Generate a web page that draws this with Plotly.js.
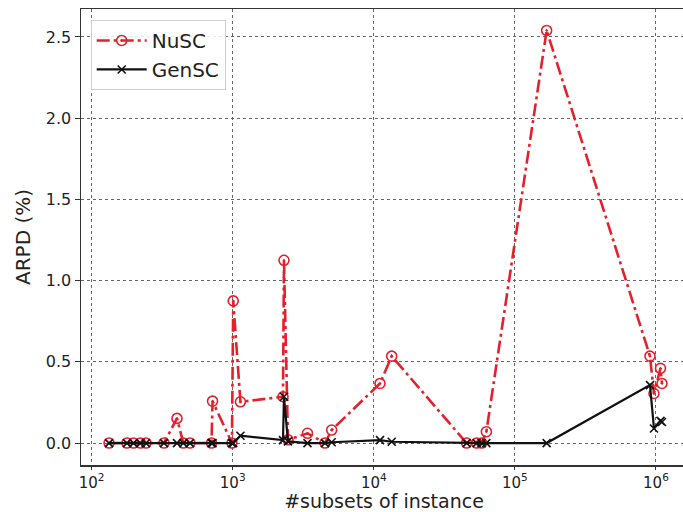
<!DOCTYPE html>
<html>
<head>
<meta charset="utf-8">
<script src="https://cdn.plot.ly/plotly-3.0.1.min.js"></script>
<style>
html,body{margin:0;padding:0;overflow:hidden;background:#fff;}
#chart{width:690px;height:512px;}
</style>
</head>
<body>
<div id="chart"></div>
<script>
// #subsets of instance (shared x values)
const subsets = [133, 178, 198, 222, 243, 326, 403, 447, 498, 708, 720, 988, 1009, 1135,
  2273, 2310, 2466, 3390, 4510, 5030, 11070, 13400, 45500, 53600, 58200, 62800,
  168000, 907000, 968000, 1077000, 1103000];
// ARPD (%) for NuSC
const nusc = [0, 0, 0, 0, 0, 0, 0.152, 0, 0, 0, 0.258, 0, 0.875, 0.254,
  0.285, 1.125, 0.02, 0.06, 0, 0.08, 0.367, 0.535, 0, 0, 0, 0.07,
  2.54, 0.535, 0.305, 0.46, 0.367];
// ARPD (%) for GenSC
const gensc = [0, 0, 0, 0, 0, 0, 0, 0, 0, 0, 0, 0, 0, 0.045,
  0.018, 0.285, 0.01, 0, 0, 0.005, 0.018, 0.008, 0, 0, 0, 0,
  0, 0.357, 0.09, 0.137, 0.13];

const xTickVals = [1e2, 1e3, 1e4, 1e5, 1e6];
const xTickText = ['10<sup>2</sup>', '10<sup>3</sup>', '10<sup>4</sup>', '10<sup>5</sup>', '10<sup>6</sup>'];
const yTickVals = [0, 0.5, 1.0, 1.5, 2.0, 2.5];
const yTickText = ['0.0', '0.5', '1.0', '1.5', '2.0', '2.5'];

const red = '#e3202c';

const traces = [
  {
    x: subsets, y: nusc, name: 'NuSC', type: 'scatter', mode: 'lines+markers',
    line: {color: red, width: 2.6, dash: '13px,4px,3px,4px'},
    marker: {symbol: 'circle-open-dot', size: 10, color: red, line: {color: red, width: 1.6}}
  },
  {
    x: subsets, y: gensc, name: 'GenSC', type: 'scatter', mode: 'lines+markers',
    line: {color: '#111', width: 2.2},
    marker: {symbol: 'x-thin-open', size: 8, color: '#111', line: {color: '#111', width: 1.6}}
  }
];

const layout = {
  width: 690, height: 512,
  margin: {l: 81, r: 3, t: 9, b: 47},
  paper_bgcolor: '#fff', plot_bgcolor: '#fff',
  font: {family: 'DejaVu Sans, sans-serif', size: 16, color: '#222'},
  showlegend: true,
  legend: {
    x: 0.016, y: 0.976, xanchor: 'left', yanchor: 'top',
    bgcolor: 'rgba(255,255,255,0.85)', bordercolor: '#d0d0d0', borderwidth: 1,
    font: {size: 20, color: '#222'}, tracegroupgap: 4, itemwidth: 50
  },
  xaxis: {
    type: 'log', range: [1.925, 6.22],
    tickvals: xTickVals, ticktext: xTickText,
    ticks: 'outside', ticklen: 3, tickcolor: '#333', tickwidth: 1,
    showgrid: true, gridcolor: '#666', griddash: 'dot', gridwidth: 1,
    showline: true, linecolor: '#333', linewidth: 1.5, mirror: true,
    zeroline: false,
    tickfont: {size: 15},
    title: {text: '#subsets of instance', font: {size: 19}, standoff: 8}
  },
  yaxis: {
    range: [-0.135, 2.672],
    tickvals: yTickVals, ticktext: yTickText,
    ticks: 'outside', ticklen: 5, tickcolor: '#333', tickwidth: 1,
    showgrid: true, gridcolor: '#666', griddash: 'dot', gridwidth: 1,
    showline: true, linecolor: '#333', linewidth: 1.5, mirror: true,
    zeroline: false,
    tickfont: {size: 16},
    title: {text: 'ARPD (%)', font: {size: 20}, standoff: 10}
  }
};

Plotly.newPlot('chart', traces, layout, {displayModeBar: false, staticPlot: true});
</script>
</body>
</html>
